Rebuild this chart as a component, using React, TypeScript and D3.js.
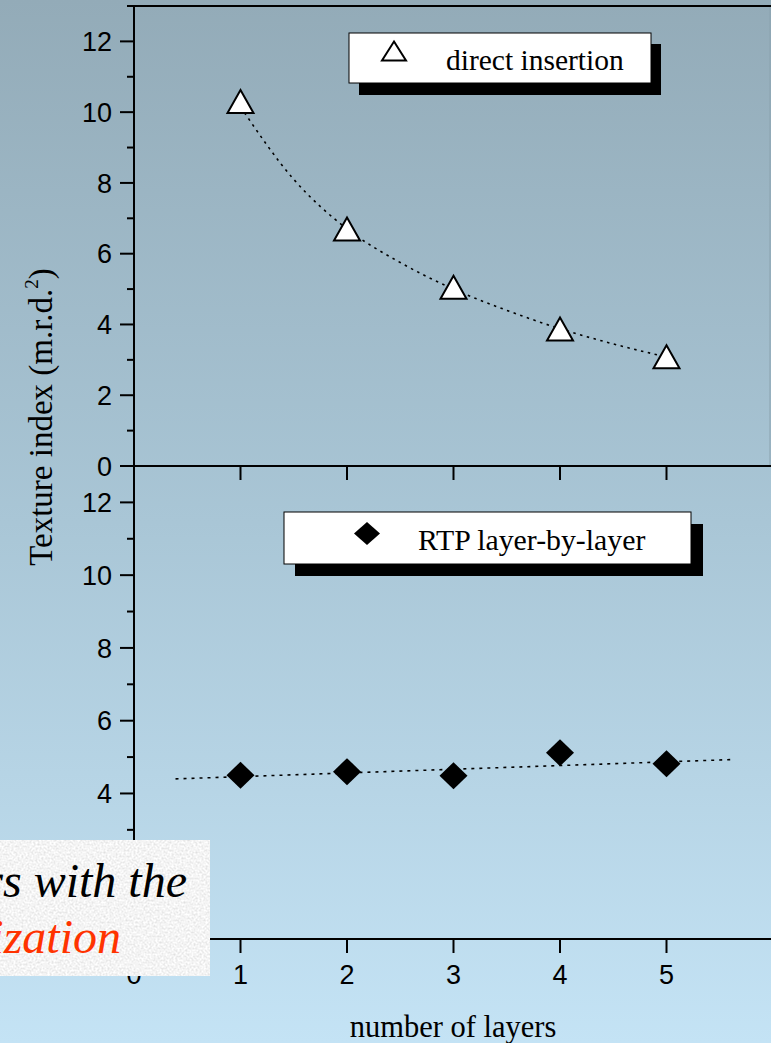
import React from 'react';
import * as d3 from 'd3';

const W = 771;
const H = 1043;

// number of layers on the x axis
const layers = [1, 2, 3, 4, 5];
// texture index, direct insertion (open triangles)
const directInsertion = [10.3, 6.7, 5.05, 3.87, 3.09];
// dotted decay curve through the direct-insertion series
const directFitX = [1, 1.5, 2, 2.5, 3, 3.5, 4, 4.5, 5];
const directFitY = [10.15, 8.1, 6.7, 5.75, 5.0, 4.4, 3.88, 3.45, 3.08];
// texture index, RTP layer-by-layer (filled diamonds)
const rtpLayerByLayer = [4.5, 4.6, 4.49, 5.12, 4.82];
// dotted linear trend for the RTP series
const rtpFitX = [0.39, 5.6];
const rtpFitY = [4.4, 4.93];

const xTicks = [0, 1, 2, 3, 4, 5];
const yMajorTop = [0, 2, 4, 6, 8, 10, 12];
// the lowest labels of the lower panel sit beneath the caption card
const yMajorBottomLabels = [4, 6, 8, 10, 12];
const yMajor = [0, 2, 4, 6, 8, 10, 12];
const yMinor = [1, 3, 5, 7, 9, 11];

const SANS = '"Liberation Sans", Arial, Helvetica, sans-serif';
const SERIF = '"Liberation Serif", "Times New Roman", Times, serif';

const x = d3.scaleLinear().domain([0, 6]).range([134, 773]);
const yTop = d3.scaleLinear().domain([0, 13]).range([466, 6]);
const yBot = d3.scaleLinear().domain([0, 13]).range([939, 466]);

const line = (ys: d3.ScaleLinear<number, number>) =>
  d3
    .line<[number, number]>()
    .x((d) => x(d[0]))
    .y((d) => ys(d[1]))
    .curve(d3.curveMonotoneX);

const triangle = (cx: number, cy: number, w: number, h: number) =>
  `M${cx},${cy - h / 2}L${cx + w / 2},${cy + h / 2}L${cx - w / 2},${cy + h / 2}Z`;
const diamond = (cx: number, cy: number, w: number, h: number) =>
  `M${cx},${cy - h / 2}L${cx + w / 2},${cy}L${cx},${cy + h / 2}L${cx - w / 2},${cy}Z`;

function YAxis({ scale, labels }: { scale: d3.ScaleLinear<number, number>; labels: number[] }) {
  return (
    <g>
      {yMajor.map((v) => (
        <line key={'M' + v} x1={120} x2={134} y1={scale(v)} y2={scale(v)} stroke="#000" strokeWidth={2} />
      ))}
      {labels.map((v) => (
        <text
          key={'L' + v}
          x={112}
          y={scale(v)}
          dy="0.36em"
          textAnchor="end"
          fontFamily={SANS}
          fontSize={27}
          fill="#000"
        >
          {v}
        </text>
      ))}
      {yMinor.map((v) => (
        <line key={'m' + v} x1={127} x2={134} y1={scale(v)} y2={scale(v)} stroke="#000" strokeWidth={2} />
      ))}
    </g>
  );
}

export default function App() {
  const directFit = directFitX.map((v, i) => [v, directFitY[i]] as [number, number]);
  const rtpFit = rtpFitX.map((v, i) => [v, rtpFitY[i]] as [number, number]);

  return (
    <svg
      width={W}
      height={H}
      viewBox={`0 0 ${W} ${H}`}
      style={{ position: 'absolute', left: 0, top: 0, display: 'block' }}
    >
      <defs>
        <linearGradient id="bg" x1="0" y1="0" x2="0" y2="1">
          <stop offset="0" stopColor="#93abb8" />
          <stop offset="0.5" stopColor="#a9c6d6" />
          <stop offset="1" stopColor="#c4e3f5" />
        </linearGradient>
        <filter id="grain" x="0" y="0" width="100%" height="100%">
          <feTurbulence type="fractalNoise" baseFrequency="0.5" numOctaves="3" seed="7" />
          <feColorMatrix
            type="matrix"
            values="0.45 0 0 0 0.68  0.45 0 0 0 0.68  0.45 0 0 0 0.68  0 0 0 0 1"
          />
        </filter>
        <clipPath id="noteClip">
          <rect x={0} y={840} width={210} height={136} />
        </clipPath>
      </defs>

      <rect x={0} y={0} width={W} height={H} fill="url(#bg)" />

      {/* faint right edge of the upper panel */}
      <line x1={770} x2={770} y1={6} y2={466} stroke="#8aa2af" strokeWidth={1} />

      {/* frame lines */}
      <line x1={127} x2={W} y1={6} y2={6} stroke="#000" strokeWidth={2} />
      <line x1={134} x2={134} y1={5} y2={940} stroke="#000" strokeWidth={2} />
      <line x1={134} x2={W} y1={466} y2={466} stroke="#000" strokeWidth={2} />
      <line x1={134} x2={W} y1={939} y2={939} stroke="#000" strokeWidth={2} />

      {/* x ticks below the middle divider and the bottom axis */}
      {layers.map((v) => (
        <line key={'tm' + v} x1={x(v)} x2={x(v)} y1={466} y2={480} stroke="#000" strokeWidth={2} />
      ))}
      {layers.map((v) => (
        <line key={'tb' + v} x1={x(v)} x2={x(v)} y1={939} y2={953} stroke="#000" strokeWidth={2} />
      ))}
      {xTicks.map((v) => (
        <text
          key={'xl' + v}
          x={x(v)}
          y={984}
          textAnchor="middle"
          fontFamily={SANS}
          fontSize={27}
          fill="#000"
        >
          {v}
        </text>
      ))}

      <YAxis scale={yTop} labels={yMajorTop} />
      <YAxis scale={yBot} labels={yMajorBottomLabels} />

      {/* upper panel: direct insertion */}
      <path
        d={line(yTop)(directFit) ?? ''}
        fill="none"
        stroke="#000"
        strokeWidth={1.6}
        strokeDasharray="2.5 4.5"
      />
      {layers.map((v, i) => (
        <path
          key={'tri' + v}
          d={triangle(x(v), yTop(directInsertion[i]), 26, 23)}
          fill="#fff"
          stroke="#000"
          strokeWidth={2}
          strokeLinejoin="miter"
        />
      ))}

      {/* lower panel: RTP layer-by-layer */}
      <path
        d={line(yBot)(rtpFit) ?? ''}
        fill="none"
        stroke="#000"
        strokeWidth={1.6}
        strokeDasharray="3 5"
      />
      {layers.map((v, i) => (
        <path key={'dia' + v} d={diamond(x(v), yBot(rtpLayerByLayer[i]), 28, 27)} fill="#000" />
      ))}

      {/* legends */}
      <rect x={359} y={44} width={302} height={51} fill="#000" />
      <rect x={349} y={33} width={302} height={50} fill="#fff" stroke="#000" strokeWidth={1} />
      <path d={triangle(394, 51, 24, 19)} fill="#fff" stroke="#000" strokeWidth={2} />
      <text x={446} y={70} fontFamily={SERIF} fontSize={29.5} fill="#000">
        direct insertion
      </text>

      <rect x={295} y={524} width={408} height={52} fill="#000" />
      <rect x={284} y={512} width={407} height={52} fill="#fff" stroke="#000" strokeWidth={1} />
      <path d={diamond(367, 533.5, 26, 23)} fill="#000" />
      <text x={418} y={550} fontFamily={SERIF} fontSize={29.8} fill="#000">
        RTP layer-by-layer
      </text>

      {/* axis titles */}
      <text x={453} y={1037} textAnchor="middle" fontFamily={SERIF} fontSize={30.5} fill="#000">
        number of layers
      </text>
      <text
        transform="translate(52,417) rotate(-90)"
        textAnchor="middle"
        fontFamily={SERIF}
        fontSize={33}
        fill="#000"
      >
        Texture index (m.r.d.
        <tspan fontSize={19} dy={-14}>
          2
        </tspan>
        <tspan dy={14}>)</tspan>
      </text>

      {/* textured caption card overlapping the lower-left corner */}
      <g clipPath="url(#noteClip)">
        <rect x={0} y={840} width={210} height={136} fill="#e6e6e6" />
        <rect x={0} y={840} width={210} height={136} filter="url(#grain)" />
        <text
          x={187}
          y={897}
          textAnchor="end"
          fontFamily={SERIF}
          fontStyle="italic"
          fontSize={48}
          fill="#000"
        >
          rs with the
        </text>
        <text
          x={121}
          y={953}
          textAnchor="end"
          fontFamily={SERIF}
          fontStyle="italic"
          fontSize={48}
          fill="#ff3300"
        >
          ization
        </text>
      </g>
    </svg>
  );
}
